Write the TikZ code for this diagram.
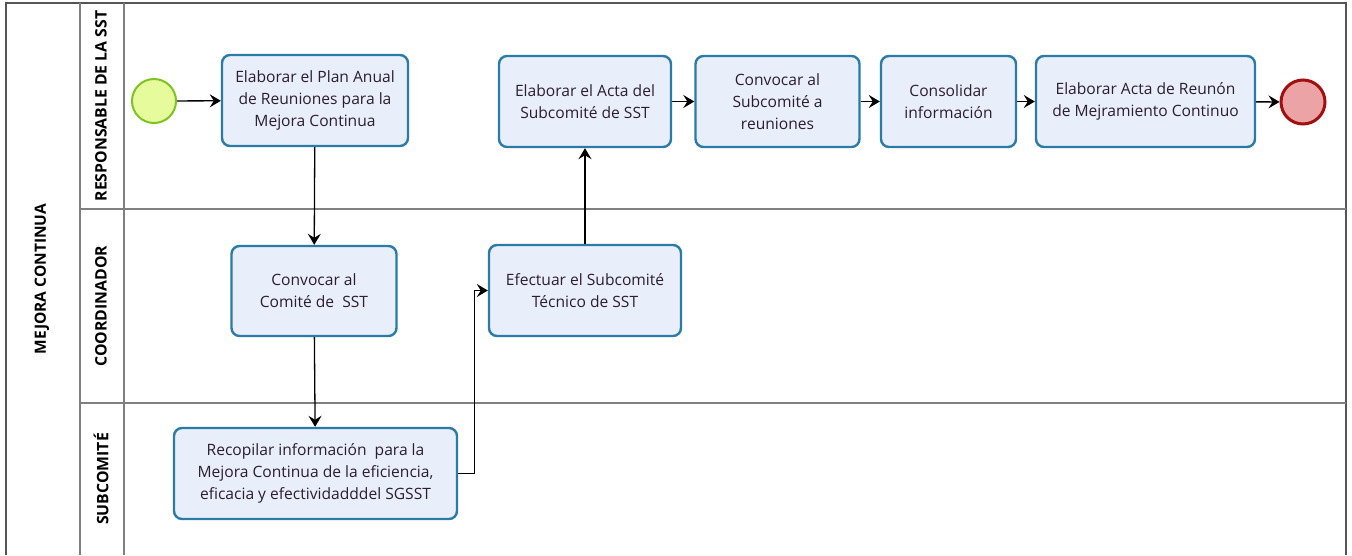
\documentclass[tikz,border=0pt]{standalone}
\usepackage{fontspec}
\setmainfont{Open Sans}
\usetikzlibrary{arrows.meta}
\definecolor{taskfill}{HTML}{E9EEFB}
\definecolor{taskdraw}{HTML}{2A7BA6}
\definecolor{inkc}{HTML}{2B1E2E}
\definecolor{startfill}{HTML}{E6FC9C}
\definecolor{startdraw}{HTML}{7DC321}
\definecolor{endfill}{HTML}{EBA3A5}
\definecolor{enddraw}{HTML}{A10F0F}
\definecolor{poolline}{HTML}{555555}
\definecolor{laneline}{HTML}{808080}
\tikzset{
  task/.style={rectangle, rounded corners=8pt, draw=taskdraw, line width=2.4pt,
    fill=taskfill, align=center, text=inkc, inner sep=0pt,
    font=\fontsize{15.6}{22}\selectfont},
  startev/.style={circle, draw=startdraw, fill=startfill, line width=2pt,
    minimum size=44pt, inner sep=0pt},
  endev/.style={circle, draw=enddraw, fill=endfill, line width=3pt,
    minimum size=44pt, inner sep=0pt},
  flow/.style={draw=black, line width=1.3pt,
    -{Stealth[length=11pt,width=13pt,inset=4pt]}},
  lanelabel/.style={rotate=90, text=black},
  lanefont/.style={font=\bfseries\fontsize{15.8}{18}\selectfont},
  poolfont/.style={font=\bfseries\fontsize{15.5}{18}\selectfont},
  pooledge/.style={draw=poolline, line width=1.3pt},
  laneedge/.style={draw=laneline, line width=1.2pt}
}
\begin{document}
\begin{tikzpicture}[x=1pt,y=-1pt]
\useasboundingbox (0,0) rectangle (1352,555);
\fill[white] (0,0) rectangle (1352,555);

% pool and lanes
\draw[pooledge] (6,555) -- (6,3) -- (1346,3) -- (1346,555);
\draw[laneedge] (80,3) -- (80,555);
\draw[laneedge] (124,3) -- (124,555);
\draw[laneedge] (80,209) -- (1346,209);
\draw[laneedge] (80,403) -- (1346,403);

\node[lanelabel, poolfont] (pool) at (42,279) {MEJORA CONTINUA};
\node[lanelabel, lanefont] (lane1) at (101,106) {RESPONSABLE DE LA SST};
\node[lanelabel, lanefont] (lane2) at (101,306) {COORDINADOR};
\node[lanelabel, lanefont] (lane3) at (101,479) {SUBCOMITÉ};

% events
\node[startev] (start) at (154,101) {};
\node[endev] (end) at (1303,102) {};

% tasks
\node[task, minimum width=186pt, minimum height=91pt] (plan) at (315,100.5)
  {Elaborar el Plan Anual\\de Reuniones para la\\Mejora Continua};
\node[task, minimum width=165pt, minimum height=90pt] (comite) at (314,291)
  {Convocar al\\Comité de\ \ SST};
\node[task, minimum width=283pt, minimum height=91pt] (recop) at (315.5,473.5)
  {Recopilar información\ \ para la\\Mejora Continua de la eficiencia,\\eficacia y efectividadddel SGSST};
\node[task, minimum width=192pt, minimum height=91pt] (efect) at (585,290.5)
  {Efectuar el Subcomité\\Técnico de SST};
\node[task, minimum width=172pt, minimum height=91pt] (acta) at (585,101.5)
  {Elaborar el Acta del\\Subcomité de SST};
\node[task, minimum width=164pt, minimum height=91pt] (convsub) at (777.5,101.5)
  {Convocar al\\Subcomité a\\reuniones};
\node[task, minimum width=135pt, minimum height=91pt] (consol) at (948.5,101.5)
  {Consolidar\\información};
\node[task, minimum width=219pt, minimum height=91pt] (reunion) at (1145.5,101.5)
  {Elaborar Acta de Reunón\\de Mejramiento Continuo};

% sequence flows
\draw[flow] (start) -- (plan);
\draw[flow] (plan) -- (comite);
\draw[flow] (comite) -- (recop);
\draw[flow] (recop.east) -- ++(16,0) |- (efect.west);
\draw[flow] (efect) -- (acta);
\draw[flow] (acta) -- (convsub);
\draw[flow] (convsub) -- (consol);
\draw[flow] (consol) -- (reunion);
\draw[flow] (reunion) -- (end);
\end{tikzpicture}
\end{document}
